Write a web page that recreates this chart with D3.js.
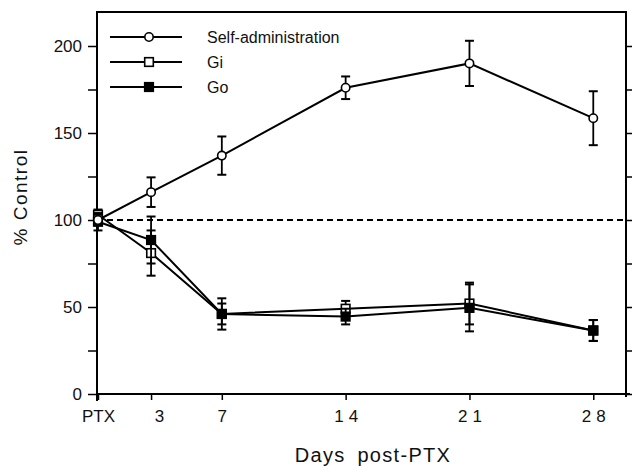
<!DOCTYPE html>
<html>
<head>
<meta charset="utf-8">
<script src="https://cdn.jsdelivr.net/npm/d3@7"></script>
<style>
  body { margin: 0; background: #fff; }
  svg { display: block; font-family: "Liberation Sans", Arial, Helvetica, sans-serif; }
</style>
</head>
<body>
<svg id="chart" width="634" height="466"></svg>
<script>
// ---- data ----
const days = [0, 3, 7, 14, 21, 28];
const xTickDays = [0, 3, 7, 14, 21, 28];
const xTickLabels = ["PTX", "3", "7", "14", "21", "28"];
const yMajorTicks = [0, 50, 100, 150, 200];
const yAllTicks = [0, 25, 50, 75, 100, 125, 150, 175, 200];

const selfAdmMean = [100, 116, 137, 176, 190, 158.5];
const selfAdmErr  = [3, 8.5, 11, 6.5, 13, 15.5];
const giMean = [103, 81, 46, 49, 52, 36.5];
const giErr  = [3, 13, 9, 4.5, 12, 6];
const goMean = [99, 88.5, 46, 44.5, 49.5, 36.5];
const goErr  = [5, 13.5, 6, 4.5, 13.5, 6];
const seriesNames = ["Self-administration", "Gi", "Go"];
const controlLevel = 100;

// ---- layout ----
const svg = d3.select("#chart");
const mLeft = 97, mRight = 626, mTop = 12, mBottom = 394;
const x = d3.scaleLinear().domain([0, 29.85]).range([98, mRight]);
const y = d3.scaleLinear().domain([0, 200]).range([mBottom, 46]);

const series = [
  { name: seriesNames[1], mean: giMean, err: giErr, marker: "square", fill: "#fff" },
  { name: seriesNames[2], mean: goMean, err: goErr, marker: "square", fill: "#000" },
  { name: seriesNames[0], mean: selfAdmMean, err: selfAdmErr, marker: "circle", fill: "#fff" }
];

// frame: top
svg.append("line").attr("x1", mLeft).attr("x2", mRight).attr("y1", mTop).attr("y2", mTop)
  .attr("stroke", "#000").attr("stroke-width", 2);

// left axis
const yAxis = d3.axisLeft(y).tickValues(yAllTicks).tickSize(9).tickPadding(6)
  .tickFormat(d => yMajorTicks.includes(d) ? d : "");
const gy = svg.append("g").attr("transform", `translate(${mLeft},0)`).call(yAxis);
gy.select(".domain").remove();
gy.selectAll(".tick line").attr("stroke-width", 1.5);
gy.selectAll("text").attr("font-size", 17).attr("fill", "#111");
svg.append("line").attr("x1", mLeft).attr("x2", mLeft).attr("y1", mTop - 1).attr("y2", mBottom + 7)
  .attr("stroke", "#000").attr("stroke-width", 2);

// right axis (ticks outward)
const yAxisR = d3.axisRight(y).tickValues(yAllTicks).tickSize(6).tickFormat("");
const gyr = svg.append("g").attr("transform", `translate(${mRight},0)`).call(yAxisR);
gyr.select(".domain").remove();
gyr.selectAll(".tick line").attr("stroke-width", 1.5);
svg.append("line").attr("x1", mRight).attr("x2", mRight).attr("y1", mTop - 1).attr("y2", mBottom + 3)
  .attr("stroke", "#000").attr("stroke-width", 2);

// bottom axis
const xAxis = d3.axisBottom(x).tickValues(xTickDays).tickSize(6).tickPadding(12)
  .tickFormat((d, i) => xTickLabels[i]);
const gx = svg.append("g").attr("transform", `translate(0,${mBottom})`).call(xAxis);
gx.select(".domain").remove();
gx.selectAll(".tick line").attr("stroke-width", 1.5);
gx.selectAll("text").attr("font-size", 17).attr("fill", "#111")
  .attr("letter-spacing", (d, i) => i > 2 ? "5px" : "0px")
  .attr("dx", (d, i) => i > 2 ? 2.5 : (i === 1 ? 8 : 0))
  .attr("dy", "0.6em");
svg.append("line").attr("x1", mLeft - 1).attr("x2", mRight + 4).attr("y1", mBottom).attr("y2", mBottom)
  .attr("stroke", "#000").attr("stroke-width", 2);

// dashed control line
svg.append("line").attr("x1", mLeft).attr("x2", mRight)
  .attr("y1", y(controlLevel)).attr("y2", y(controlLevel))
  .attr("stroke", "#000").attr("stroke-width", 2).attr("stroke-dasharray", "6,4");

// axis titles
svg.append("text").attr("x", 373).attr("y", 462).attr("text-anchor", "middle")
  .attr("font-size", 20).attr("letter-spacing", "1.3px").attr("word-spacing", "5px").attr("fill", "#111")
  .text("Days post-PTX");
svg.append("text").attr("transform", "translate(27,197) rotate(-90)").attr("text-anchor", "middle")
  .attr("font-size", 19).attr("letter-spacing", "1.5px").attr("fill", "#111")
  .text("% Control");

// series
const line = d3.line().x((d, i) => x(days[i])).y(d => y(d));
series.forEach(s => {
  const g = svg.append("g");
  g.append("path").attr("d", line(s.mean)).attr("fill", "none")
    .attr("stroke", "#000").attr("stroke-width", 2);
  s.mean.forEach((m, i) => {
    const cx = x(days[i]);
    const y1 = y(m + s.err[i]), y2 = y(m - s.err[i]);
    g.append("line").attr("x1", cx).attr("x2", cx).attr("y1", y1).attr("y2", y2)
      .attr("stroke", "#000").attr("stroke-width", 1.8);
    [y1, y2].forEach(yy => g.append("line").attr("x1", cx - 4.5).attr("x2", cx + 4.5)
      .attr("y1", yy).attr("y2", yy).attr("stroke", "#000").attr("stroke-width", 2));
  });
  s.mean.forEach((m, i) => {
    const cx = x(days[i]), cy = y(m);
    if (s.marker === "circle") {
      g.append("circle").attr("cx", cx).attr("cy", cy).attr("r", 4.2)
        .attr("fill", s.fill).attr("stroke", "#000").attr("stroke-width", 1.6);
    } else {
      g.append("rect").attr("x", cx - 4.3).attr("y", cy - 4.3).attr("width", 8.6).attr("height", 8.6)
        .attr("fill", s.fill).attr("stroke", "#000").attr("stroke-width", 1.6);
    }
  });
});

// legend
const legendItems = [series[2], series[0], series[1]];
const legendY = [37, 62, 87];
legendItems.forEach((s, i) => {
  const ly = legendY[i];
  svg.append("line").attr("x1", 110).attr("x2", 182).attr("y1", ly).attr("y2", ly)
    .attr("stroke", "#000").attr("stroke-width", 2);
  if (s.marker === "circle") {
    svg.append("circle").attr("cx", 149).attr("cy", ly).attr("r", 4.2)
      .attr("fill", s.fill).attr("stroke", "#000").attr("stroke-width", 1.6);
  } else {
    svg.append("rect").attr("x", 149 - 4.3).attr("y", ly - 4.3).attr("width", 8.6).attr("height", 8.6)
      .attr("fill", s.fill).attr("stroke", "#000").attr("stroke-width", 1.6);
  }
  svg.append("text").attr("x", 207).attr("y", ly + 6).attr("font-size", 16).attr("fill", "#111")
    .text(s.name);
});
</script>
</body>
</html>
